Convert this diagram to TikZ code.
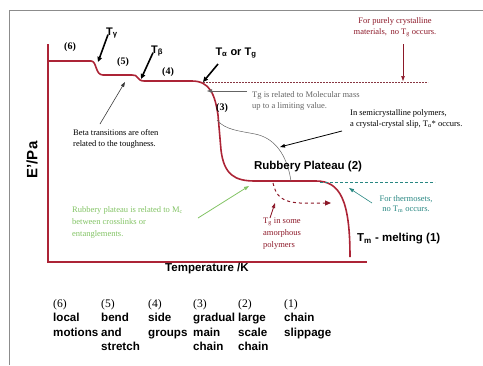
\documentclass[tikz,border=0pt]{standalone}
\usepackage{fontspec}
\setmainfont{Liberation Serif}
\setsansfont{Liberation Sans}
\usetikzlibrary{arrows.meta}
\definecolor{curvered}{RGB}{172,36,54}
\definecolor{darkred}{RGB}{140,24,40}
\definecolor{lgreen}{RGB}{130,195,100}
\definecolor{teal2}{RGB}{40,135,130}
\definecolor{txtgray}{RGB}{100,100,100}
\definecolor{framegray}{RGB}{140,140,140}
\begin{document}
\begin{tikzpicture}[x=1pt,y=-1pt,
  lbl/.style={font=\fontsize{11}{13}\selectfont\sffamily\bfseries, inner sep=0pt},
  num/.style={font=\fontsize{10}{12}\selectfont\rmfamily\bfseries, inner sep=0pt},
  note/.style={font=\fontsize{8.5}{10.5}\selectfont\rmfamily, inner sep=0pt, align=left},
  legend/.style={font=\fontsize{11.6}{14.5}\selectfont\sffamily\bfseries, inner sep=0pt, align=left, anchor=north west},
  bigarrow/.style={-{Triangle[length=5pt,width=4.5pt]}, line width=1.6pt, black},
  thinarrow/.style={-{Triangle[length=5pt,width=3.5pt]}, line width=0.6pt},
  curve/.style={curvered, line width=1.6pt},
  axisline/.style={curvered, line width=2.4pt}
]
\useasboundingbox (0,0) rectangle (483,365);
% frame
\draw[framegray, line width=1pt] (9,365) -- (9,10) -- (483,10);

% axes
\coordinate (ytop) at (48,44);
\coordinate (orig) at (48,262);
\coordinate (xend) at (367,262);
\draw[axisline] (ytop) -- (orig) -- (xend);

% main curve
\draw[curve] (48,61) -- (91,61) .. controls (97,61) and (95,75) .. (103,75)
  -- (132,75) .. controls (138,74) and (137,81) .. (144,81)
  -- (192,81) .. controls (210,81) and (215,95) .. (218,115)
  -- (221,150) .. controls (224,175) and (235,181) .. (255,181)
  -- (316,181) .. controls (340,181) and (350,200) .. (350,257);

% gray semicrystalline curve
\draw[txtgray, line width=0.5pt] (217,120) .. controls (225,130) and (240,131) .. (255,134)
  .. controls (275,138) and (287,155) .. (291,181);

% dashed amorphous arrow
\draw[darkred, line width=1pt, dashed, -{Triangle[length=6pt,width=5pt]}]
  (273,183) .. controls (276,197) and (283,202) .. (300,203) -- (331,203);

% dashed horizontal lines
\coordinate (da1) at (203,82);
\coordinate (da2) at (428,82);
\draw[darkred!70!gray, line width=0.6pt, dash pattern=on 2pt off 1pt] (da1) -- (da2);
\coordinate (dt1) at (320,182);
\coordinate (dt2) at (435,182);
\draw[teal2, line width=0.7pt, dash pattern=on 3pt off 2pt] (dt1) -- (dt2);

% labels
\node[num] (l6) at (70,47) {(6)};
\node[lbl] (ty) at (112,33) {T\textsubscript{γ}};
\node[num] (l5) at (123,62) {(5)};
\node[lbl] (tb) at (157,51) {T\textsubscript{β}};
\node[num] (l4) at (168,72) {(4)};
\node[lbl] (ta) at (236,53) {T\textsubscript{α} or T\textsubscript{g}};
\node[num] (l3) at (222,108) {(3)};
\node[lbl, font=\fontsize{11.5}{13}\selectfont\sffamily\bfseries] (rp) at (308,167) {Rubbery Plateau (2)};
\node[lbl, anchor=west, font=\fontsize{11.5}{13}\selectfont\sffamily\bfseries] (tm) at (357,239) {T\textsubscript{m} - melting (1)};
\node[lbl, font=\fontsize{11.5}{13}\selectfont\sffamily\bfseries] (temp) at (207,269) {Temperature /K};
\node[lbl, rotate=90, font=\fontsize{15}{17}\selectfont\sffamily\bfseries] (ep) at (32,160) {E'/Pa};

% transition arrows
\coordinate (tyend) at (98,62);
\coordinate (tbend) at (141,79);
\coordinate (taend) at (203,82);
\draw[bigarrow] ([xshift=-4pt,yshift=4pt]ty.south) -- (tyend);
\draw[bigarrow] ([xshift=-4pt,yshift=4pt]tb.south) -- (tbend);
\draw[bigarrow] (218,64) -- (taend);

% notes
\node[note, darkred, align=center] (pc) at (395,27) {For purely crystalline\\materials,\, no T\textsubscript{g} occurs.};
\coordinate (pcend) at (403,81);
\draw[thinarrow, darkred] (403,44) -- (pcend);

\node[note, txtgray, anchor=west] (tgm) at (252,101) {Tg is related to Molecular mass\\up to a limiting value.};
\coordinate (tgmend) at (207,91);
\draw[thinarrow, txtgray] (247,91) -- (tgmend);

\node[note, anchor=west] (beta) at (73,139) {Beta transitions are often\\related to the toughness.};
\coordinate (betaend) at (125,82);
\draw[thinarrow, txtgray!60!black] (100,124) -- (betaend);

\node[note, anchor=west] (semi) at (350,119) {In semicrystalline polymers,\\a crystal-crystal slip, T\textsubscript{α}* occurs.};
\coordinate (semiend) at (280,147);
\draw[thinarrow, black, line width=0.8pt] (342,131) -- (semiend);

\node[note, lgreen, anchor=west, font=\fontsize{8.5}{12}\selectfont\rmfamily] (green) at (72,222) {Rubbery plateau is related to M\textsubscript{c}\\between crosslinks or\\entanglements.};
\coordinate (greenend) at (249,186);
\draw[thinarrow, lgreen, line width=0.8pt] (198,218) -- (greenend);

\node[note, teal2, align=center] (thermo) at (406,204) {For thermosets,\\no T\textsubscript{m} occurs.};
\coordinate (thermoend) at (349,188);
\draw[thinarrow, teal2] (372,203) -- (thermoend);

\node[note, darkred, anchor=west, font=\fontsize{8.5}{12}\selectfont\rmfamily] (amor) at (263,234) {T\textsubscript{g} in some\\amorphous\\polymers};
\coordinate (amorend) at (275,203);
\draw[thinarrow, darkred, line width=0.8pt] (270,218) -- (amorend);

% legend
\node[legend] (c6) at (53,299) {{\mdseries\rmfamily (6)}\\local\\motions};
\node[legend] (c5) at (101,299) {{\mdseries\rmfamily (5)}\\bend\\and\\stretch};
\node[legend] (c4) at (148,299) {{\mdseries\rmfamily (4)}\\side\\groups};
\node[legend] (c3) at (193,299) {{\mdseries\rmfamily (3)}\\gradual\\main\\chain};
\node[legend] (c2) at (238,299) {{\mdseries\rmfamily (2)}\\large\\scale\\chain};
\node[legend] (c1) at (284,299) {{\mdseries\rmfamily (1)}\\chain\\slippage};
\end{tikzpicture}
\end{document}
